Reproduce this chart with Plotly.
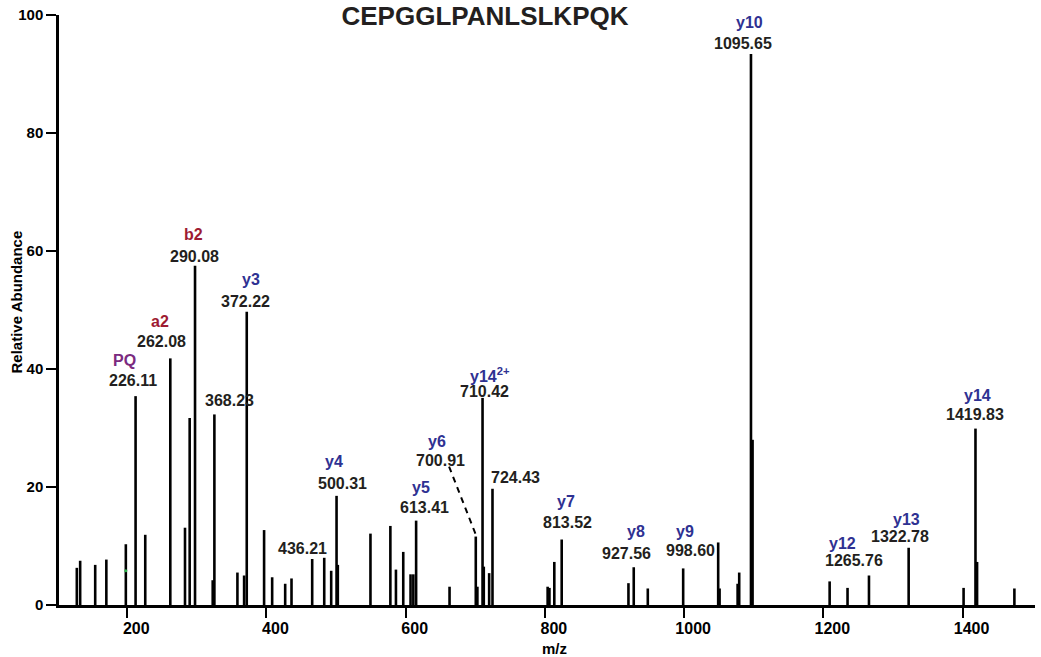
import plotly.graph_objects as go

# ---- data ----
peak_mz = [127.6, 132.4, 154.0, 170.0, 198.0, 212.0, 225.9, 261.9, 283.0, 289.7,
           297.4, 322.8, 325.2, 358.3, 367.9, 371.7, 396.6, 408.2, 426.9, 436.0,
           465.7, 483.0, 493.0, 500.7, 502.5, 549.4, 578.0, 586.0, 596.5, 607.0,
           611.0, 615.0, 663.0, 700.7, 703.0, 710.4, 712.2, 719.9, 724.7, 803.9,
           806.5, 813.5, 824.1, 920.0, 927.6, 947.8, 998.6, 1048.9, 1050.9, 1076.8,
           1079.1, 1096.0, 1098.3, 1209.0, 1234.7, 1265.5, 1322.5, 1401.4, 1418.5, 1420.8,
           1474.4]
peak_int = [6.3, 7.5, 6.8, 7.7, 10.3, 35.4, 11.9, 41.8, 13.1, 31.7,
            57.5, 4.2, 32.3, 5.5, 5.0, 49.7, 12.7, 4.7, 3.6, 4.5,
            7.8, 8.0, 5.8, 18.5, 6.8, 12.1, 13.4, 6.0, 9.0, 5.2,
            5.2, 14.3, 3.1, 11.6, 3.1, 35.1, 6.5, 5.4, 19.7, 3.1,
            2.9, 7.3, 11.1, 3.7, 6.4, 2.8, 6.2, 10.6, 2.8, 3.6,
            5.5, 93.4, 28.0, 4.0, 2.9, 5.0, 9.7, 2.9, 29.9, 7.3,
            2.8]

label_peak_mz = [212.0, 261.9, 297.4, 371.7, 325.2, 436.0, 500.7, 615.0, 700.7,
                 710.4, 724.7, 824.1, 927.6, 998.6, 1096.0, 1265.5, 1322.5, 1418.5]
label_mass = ["226.11", "262.08", "290.08", "372.22", "368.23", "436.21", "500.31",
              "613.41", "700.91", "710.42", "724.43", "813.52", "927.56", "998.60",
              "1095.65", "1265.76", "1322.78", "1419.83"]
label_ion = ["PQ", "a2", "b2", "y3", "", "", "y4", "y5", "y6", "y14<sup>2+</sup>", "",
             "y7", "y8", "y9", "y10", "y12", "y13", "y14"]
label_kind = ["internal", "b", "b", "y", "", "", "y", "y", "y", "y", "",
              "y", "y", "y", "y", "y", "y", "y"]

marker_mz = [198.0]
marker_int = [5.8]

title_text = "CEPGGLPANLSLKPQK"
x_ticks = [200, 400, 600, 800, 1000, 1200, 1400]
y_ticks = [0, 20, 40, 60, 80, 100]

# ---- styles ----
kind_color = {"y": "#2E3192", "b": "#9E1B32", "internal": "#7B2A7F", "": "#000000"}
# pixel offsets (mass text dx, dy ; ion text dx, dy) relative to peak top
offsets = [(-3, 16, -11, 36), (-9, 17, -10, 37), (-1, 9.5, -2, 31), (-1, 10, 4, 32),
           (15, 14, 0, 0), (11, 30, 0, 0), (5.6, 12.7, -3, 34), (8, 13.5, 5, 33),
           (-35, 75.7, -39, 95), (2.3, 6.4, 7, 23), (23, 11.5, 0, 0), (6, 17, 4.5, 38),
           (-7, 14, 2, 35.6), (7, 18, 2, 37), (-8, 10, -1, 31.5), (-15, 14.6, -26, 32),
           (-8.6, 11.4, -2.5, 28.7), (0, 13.7, 2, 32.7)]

FONT = "Liberation Sans, Arial, Helvetica, sans-serif"

xs, ys = [], []
for m, i in zip(peak_mz, peak_int):
    xs += [m, m, None]
    ys += [0, i, None]

fig = go.Figure()
fig.add_trace(go.Scatter(x=xs, y=ys, mode="lines",
                         line=dict(color="black", width=2.6),
                         hoverinfo="skip", showlegend=False))
fig.add_trace(go.Scatter(x=marker_mz, y=marker_int, mode="markers",
                         marker=dict(color="#2DB34A", size=3),
                         hoverinfo="skip", showlegend=False))

annotations = []
for m, mass, ion, kind, off in zip(label_peak_mz, label_mass, label_ion, label_kind, offsets):
    inten = peak_int[peak_mz.index(m)]
    annotations.append(dict(x=m, y=inten, xref="x", yref="y", text=mass,
                            showarrow=False, xanchor="center", yanchor="middle",
                            xshift=off[0], yshift=off[1],
                            font=dict(family=FONT, size=16, color="#231F20", weight="bold")))
    if ion:
        annotations.append(dict(x=m, y=inten, xref="x", yref="y", text=ion,
                                showarrow=False, xanchor="center", yanchor="middle",
                                xshift=off[2], yshift=off[3],
                                font=dict(family=FONT, size=16, color=kind_color[kind], weight="bold")))

# axis titles
annotations.append(dict(x=0, y=0.5127, xref="paper", yref="paper", text="Relative Abundance",
                        textangle=-90, showarrow=False, xanchor="center", yanchor="middle",
                        xshift=-42, font=dict(family=FONT, size=15, color="black", weight="bold")))
annotations.append(dict(x=0.5077, y=0, xref="paper", yref="paper", text="m/z",
                        showarrow=False, xanchor="center", yanchor="middle",
                        yshift=-43, font=dict(family=FONT, size=15, color="black", weight="bold")))

# dashed leader for y6
y6_idx = label_ion.index("y6")
y6_mz = label_peak_mz[y6_idx]
y6_int = peak_int[peak_mz.index(y6_mz)]
fig.add_shape(type="line", xref="x", yref="y", xsizemode="pixel", ysizemode="pixel",
              xanchor=y6_mz, yanchor=y6_int, x0=-26.7, y0=70, x1=0, y1=2,
              line=dict(color="black", width=2, dash="6px,5px"))

fig.update_layout(
    width=1041, height=657,
    margin=dict(l=59, r=6, t=15, b=52),
    plot_bgcolor="white", paper_bgcolor="white",
    title=dict(text=title_text, x=485 / 1041, xanchor="center", xref="container",
               y=1 - 15.7 / 657, yanchor="middle", yref="container",
               font=dict(family=FONT, size=26, color="#231F20", weight="bold")),
    annotations=annotations,
    showlegend=False,
)
fig.update_xaxes(range=[102, 1504], tickvals=x_ticks, ticktext=[str(v) for v in x_ticks],
                 showgrid=False, zeroline=False, showline=True, linecolor="black", linewidth=2.5,
                 ticks="outside", ticklen=10, tickwidth=2, tickcolor="black",
                 ticklabelshift=9, ticklabelstandoff=-3,
                 tickfont=dict(family=FONT, size=16, color="black", weight="bold"))
fig.update_yaxes(range=[0, 100], tickvals=y_ticks, ticktext=[str(v) for v in y_ticks],
                 showgrid=False, zeroline=False, showline=True, linecolor="black", linewidth=2.5,
                 ticks="outside", ticklen=10, tickwidth=2, tickcolor="black",
                 ticklabelstandoff=0,
                 tickfont=dict(family=FONT, size=15, color="black", weight="bold"))

fig.write_html("out.html", config={"displayModeBar": False},
               post_script="document.body.style.margin='0';document.body.style.overflow='hidden';")
